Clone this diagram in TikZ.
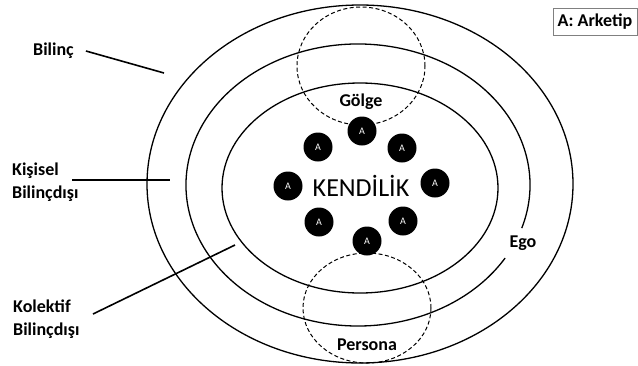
\documentclass[tikz,border=0pt]{standalone}
\usepackage{fontspec}
\setmainfont{Carlito}
\begin{document}
\begin{tikzpicture}[x=1pt,y=-1pt,
	ring/.style={line width=1.3pt},
	shade/.style={line width=1pt,dash pattern=on 4pt off 2.5pt},
	arch/.style={circle,fill=black,minimum size=29pt,inner sep=0pt,text=white,font=\fontsize{10}{12}\selectfont},
	lbl/.style={font=\fontsize{18}{23}\selectfont\bfseries,align=left,inner sep=0pt},
	pointer/.style={line width=1.6pt}]
	\useasboundingbox (0,0) rectangle (638,365);
	% the three layers, the middle one open where Ego sits
	\draw[ring] (360,184) ellipse [x radius=213pt, y radius=179pt];
	\draw[ring] (358,185) ++(-17.8:172pt and 141pt) arc [start angle=-17.8, end angle=328.8, x radius=172pt, y radius=141pt];
	\draw[ring] (360,188) ellipse [x radius=138pt, y radius=105pt];
	\draw[shade] (361,66) ellipse [x radius=64pt, y radius=59pt];
	\draw[shade] (367,308) ellipse [x radius=64pt, y radius=55pt];
	% archetypes
	\foreach \n/\x/\y in {1/362/131, 2/318/147, 3/402/148, 4/288/186, 5/435/183, 6/319/222, 7/403/221, 8/367/241}
		\node[arch] (a\n) at (\x,\y) {A};
	\node[font=\fontsize{26}{30}\selectfont] (kendilik) at (361,186) {KENDİLİK};
	\node[lbl] (golge) at (361,102) {Gölge};
	\node[lbl] (persona) at (367,345) {Persona};
	\node[lbl] (ego) at (523,243) {Ego};
	\node[lbl,anchor=west] (bilinc) at (33,51) {Bilinç};
	\node[lbl,anchor=west] (kisisel) at (12,182) {Kişisel\\Bilinçdışı};
	\node[lbl,anchor=west] (kolektif) at (13,319) {Kolektif\\Bilinçdışı};
	\node[lbl,draw=gray,line width=0.6pt,minimum width=84pt,minimum height=27pt] (legend) at (595,21.5) {A: Arketip};
	% pointers
	\coordinate (bilinc-end) at (164,73);
	\coordinate (kisisel-end) at (170,180);
	\coordinate (kolektif-end) at (235,245);
	\draw[pointer] ([xshift=12pt]bilinc.east) -- (bilinc-end);
	\draw[pointer] ([xshift=60pt,yshift=2pt]kisisel.west) -- (kisisel-end);
	\draw[pointer] ([xshift=80pt,yshift=5pt]kolektif.west) -- (kolektif-end);
\end{tikzpicture}
\end{document}
